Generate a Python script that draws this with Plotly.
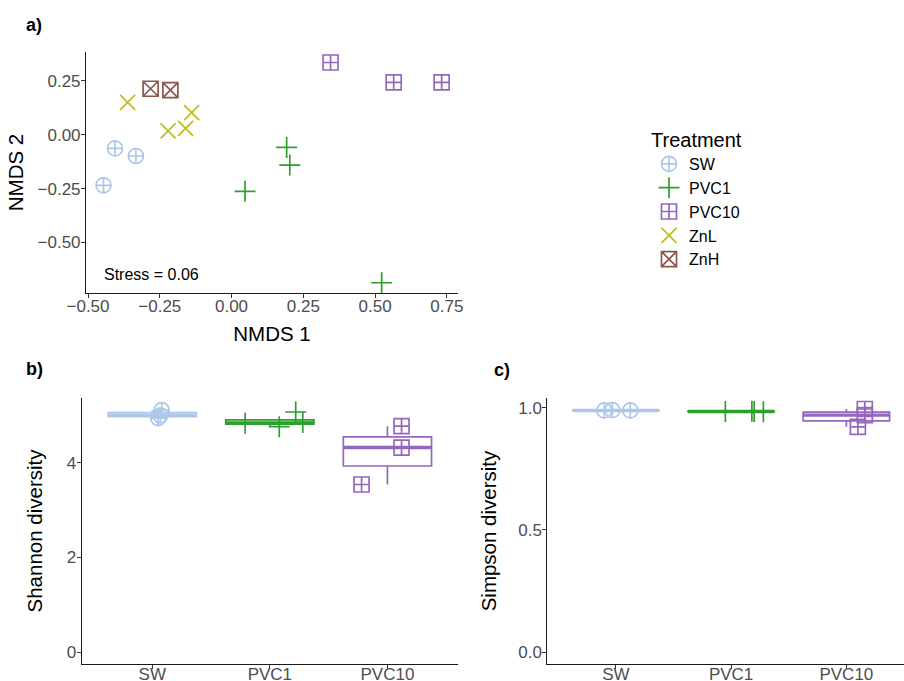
import numpy as np
import plotly.graph_objects as go

# ---------------- data ----------------
treatments = ["SW", "PVC1", "PVC10", "ZnL", "ZnH"]
treat_colors = ["#aec7e8", "#2ca02c", "#9467bd", "#bcbd22", "#8c564b"]
treat_symbols = ["circle-cross-open", "cross-thin-open", "square-cross-open",
                 "x-thin-open", "square-x-open"]

# NMDS ordination (panel a)
nmds_treatment = ["SW", "SW", "SW",
                  "PVC1", "PVC1", "PVC1", "PVC1",
                  "PVC10", "PVC10", "PVC10",
                  "ZnL", "ZnL", "ZnL", "ZnL",
                  "ZnH", "ZnH"]
nmds1 = [-0.406, -0.333, -0.446,
         0.192, 0.203, 0.047, 0.523,
         0.345, 0.565, 0.732,
         -0.362, -0.221, -0.160, -0.139,
         -0.282, -0.213]
nmds2 = [-0.064, -0.099, -0.235,
         -0.059, -0.141, -0.263, -0.687,
         0.335, 0.243, 0.243,
         0.150, 0.018, 0.029, 0.102,
         0.213, 0.207]
stress_value = 0.06

# Diversity (panels b, c)
div_groups = ["SW", "PVC1", "PVC10"]
div_treatment = ["SW", "SW", "SW", "PVC1", "PVC1", "PVC1", "PVC1",
                 "PVC10", "PVC10", "PVC10"]
shannon_values = [5.11, 5.00, 4.94, 4.83, 4.76, 5.07, 4.85, 4.77, 4.32, 3.54]
shannon_jitter = [0.08, 0.07, 0.05, -0.21, 0.08, 0.22, 0.28, 0.12, 0.12, -0.22]
simpson_values = [0.989, 0.990, 0.989, 0.985, 0.986, 0.985, 0.984, 0.995, 0.970, 0.922]
simpson_jitter = [-0.10, -0.03, 0.125, -0.05, 0.18, 0.20, 0.28, 0.16, 0.16, 0.10]

# ---------------- figure ----------------
W, H = 904, 681
FONT = "Liberation Sans, Arial, sans-serif"
TICK_COLOR = "#4d4d4d"
BOX_WIDTH = 0.75

fig = go.Figure()

col_of = dict(zip(treatments, treat_colors))
sym_of = dict(zip(treatments, treat_symbols))

# panel a scatter
for t in treatments:
    idx = [i for i, g in enumerate(nmds_treatment) if g == t]
    fig.add_trace(go.Scatter(
        x=[nmds1[i] for i in idx], y=[nmds2[i] for i in idx],
        mode="markers", name=t, legendgroup=t,
        marker=dict(symbol=sym_of[t], size=15, color=col_of[t],
                    line=dict(width=1.7, color=col_of[t])),
        xaxis="x", yaxis="y"))


def box_stats(vals):
    v = np.asarray(vals, dtype=float)
    q1, med, q3 = np.percentile(v, [25, 50, 75])
    iqr = q3 - q1
    lo = v[v >= q1 - 1.5 * iqr].min()
    hi = v[v <= q3 + 1.5 * iqr].max()
    return q1, med, q3, lo, hi


def add_diversity(values, jitter, xa, ya):
    for gi, g in enumerate(div_groups):
        idx = [i for i, t in enumerate(div_treatment) if t == g]
        vals = [values[i] for i in idx]
        q1, med, q3, lo, hi = box_stats(vals)
        c = col_of[g]
        fig.add_trace(go.Box(
            x=[gi], q1=[q1], median=[med], q3=[q3],
            lowerfence=[lo], upperfence=[hi],
            width=BOX_WIDTH, whiskerwidth=0, boxpoints=False,
            line=dict(color=c, width=1.7), fillcolor="rgba(255,255,255,0)",
            showlegend=False, hoverinfo="skip", xaxis=xa, yaxis=ya))
        # thicker median line (ggplot fatten)
        fig.add_trace(go.Scatter(
            x=[gi - BOX_WIDTH / 2, gi + BOX_WIDTH / 2], y=[med, med],
            mode="lines", line=dict(color=c, width=3.4),
            showlegend=False, hoverinfo="skip", xaxis=xa, yaxis=ya))
        fig.add_trace(go.Scatter(
            x=[gi + jitter[i] for i in idx], y=vals,
            mode="markers", showlegend=False, legendgroup=g,
            marker=dict(symbol=sym_of[g], size=15, color=c,
                        line=dict(width=1.7, color=c)),
            xaxis=xa, yaxis=ya))


add_diversity(shannon_values, shannon_jitter, "x2", "y2")
add_diversity(simpson_values, simpson_jitter, "x3", "y3")


def px_x(p):
    return p / W


def px_y(p):
    return 1 - p / H


axis_common = dict(
    showline=True, linecolor="#1a1a1a", linewidth=1.1,
    ticks="outside", ticklen=4, tickwidth=1.1, tickcolor="#333333",
    showgrid=False, zeroline=False, automargin=False,
    tickfont=dict(family=FONT, size=17, color=TICK_COLOR),
    mirror=False,
)
xaxis_common = dict(axis_common, ticklabelstandoff=-7)
xaxis_bottom = dict(axis_common, ticklabelstandoff=-9)
yaxis_common = dict(axis_common, ticklabelstandoff=-3)
title_font = dict(family=FONT, size=20.5, color="#000000")

fig.update_layout(
    width=W, height=H,
    margin=dict(l=0, r=0, t=0, b=0),
    paper_bgcolor="white", plot_bgcolor="white",
    font=dict(family=FONT, color="#000000"),
    xaxis=dict(xaxis_common, domain=[px_x(86), px_x(458)], range=[-0.507, 0.789],
               tickvals=[-0.5, -0.25, 0, 0.25, 0.5, 0.75], tickformat=".2f",
               anchor="y",
               title=dict(text="NMDS 1", font=title_font, standoff=11)),
    yaxis=dict(yaxis_common, domain=[px_y(293.3), px_y(51.7)], range=[-0.736, 0.385],
               tickvals=[-0.5, -0.25, 0, 0.25], tickformat=".2f", anchor="x",
               title=dict(text="NMDS 2", font=title_font, standoff=7.5)),
    xaxis2=dict(xaxis_bottom, domain=[px_x(81.7), px_x(458)], range=[-0.6, 2.6],
                tickvals=[0, 1, 2], ticktext=div_groups, anchor="y2"),
    yaxis2=dict(yaxis_common, domain=[px_y(664), px_y(398)], range=[-0.247, 5.365],
                tickvals=[0, 2, 4], anchor="x2",
                title=dict(text="Shannon diversity", font=title_font, standoff=18)),
    xaxis3=dict(xaxis_bottom, domain=[px_x(547.3), 1.0], range=[-0.595, 2.5],
                tickvals=[0, 1, 2], ticktext=div_groups, anchor="y3"),
    yaxis3=dict(yaxis_common, domain=[px_y(664), px_y(398)], range=[-0.049, 1.04],
                tickvals=[0, 0.5, 1.0], tickformat=".1f", anchor="x3",
                title=dict(text="Simpson diversity", font=title_font, standoff=16)),
    legend=dict(
        x=px_x(649), y=px_y(121), xanchor="left", yanchor="top",
        title=dict(text="Treatment", font=dict(family=FONT, size=20, color="#000000")),
        font=dict(family=FONT, size=16, color="#000000"),
        bgcolor="rgba(0,0,0,0)", tracegroupgap=0,
    ),
    showlegend=True,
)

panel_font = dict(family=FONT, size=18, color="#000000")
fig.add_annotation(text="<b>a)</b>", x=px_x(24), y=px_y(25.5), xref="paper", yref="paper",
                   xanchor="left", yanchor="middle", showarrow=False, font=panel_font)
fig.add_annotation(text="<b>b)</b>", x=px_x(24), y=px_y(369), xref="paper", yref="paper",
                   xanchor="left", yanchor="middle", showarrow=False, font=panel_font)
fig.add_annotation(text="<b>c)</b>", x=px_x(492), y=px_y(370), xref="paper", yref="paper",
                   xanchor="left", yanchor="middle", showarrow=False, font=panel_font)
fig.add_annotation(text=f"Stress = {stress_value:.2f}", x=-0.45, y=-0.651, xref="x", yref="y",
                   xanchor="left", yanchor="middle", showarrow=False,
                   font=dict(family=FONT, size=16, color="#000000"))

fig.write_html("out.html", config={"displayModeBar": False},
               post_script="document.body.style.margin='0';document.body.style.padding='0';")
